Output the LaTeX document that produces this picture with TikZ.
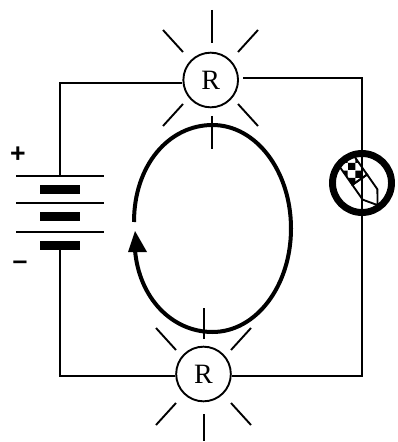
\documentclass[tikz,border=0pt]{standalone}
\usepackage{fontspec}
\setmainfont{Liberation Serif}
\newfontfamily\sansf{Liberation Sans}
\usetikzlibrary{patterns}
\tikzset{
  x=0.75pt,y=-0.75pt,
  wire/.style={line width=1.6pt*0.75},
  ray/.style={line width=1.9pt*0.75},
  plate/.style={fill=black,draw=none},
  lamp/.style={circle,draw,line width=1.9pt*0.75,minimum size=41pt,inner sep=0pt,font=\fontsize{21}{24}\selectfont,fill=white},
  sign/.style={font=\sansf\bfseries\fontsize{20}{22}\selectfont,inner sep=0pt},
}
\begin{document}
\begin{tikzpicture}
\useasboundingbox (0,0) rectangle (398,442);
% current loop
\draw[line width=3pt] (134,222) .. controls (134,165) and (169,125) .. (212.5,125)
  .. controls (256,125) and (291,171) .. (291,228.5)
  .. controls (291,286) and (256,332) .. (212.5,332)
  .. controls (172,332) and (139,298) .. (135,250);
\fill (135,231) -- (147,252) -- (128,252) -- cycle;
% wires
\node[lamp] (r1) at (210.7,80) {R};
\node[lamp] (r2) at (203.5,374) {R};
\coordinate (tl) at (60,83);
\coordinate (tr) at (362,78);
\coordinate (br) at (362,376);
\coordinate (bl) at (60,376);
\coordinate (battop) at (60,176);
\coordinate (batbot) at (60,250);
\draw[wire] (r1.west |- tl) -- (tl) -- (battop);
\draw[wire] (243,78) -- (tr) -- (br) -- (232,376);
\draw[wire] (175,376) -- (bl) -- (batbot);
% battery
\draw[wire] (16,176) -- (104,176);
\draw[wire] (16,203) -- (104,203);
\draw[wire] (16,232) -- (104,232);
\fill[plate] (40,185) rectangle (80,194);
\fill[plate] (40,212) rectangle (80,221);
\fill[plate] (40,241) rectangle (80,250);
\node[sign] (plus) at (18,155) {+};
\node[sign] (minus) at (20,265) {–};
% rays
\draw[ray] (212,10) -- (212,43);
\draw[ray] (163,30) -- (183,52);
\draw[ray] (258,30) -- (238,52);
\draw[ray] (183,104) -- (163,126);
\draw[ray] (238,104) -- (258,126);
\draw[ray] (212,116) -- (212,149);
\draw[ray] (204,308) -- (204,339);
\draw[ray] (156,328) -- (176,350);
\draw[ray] (251,328) -- (231,350);
\draw[ray] (176,403) -- (156,425);
\draw[ray] (231,403) -- (251,425);
\draw[ray] (204,414) -- (204,441);
% forbidden pencil
\draw[line width=5.2pt] (362,183) circle (29.5);
\begin{scope}[shift={(362,183)},rotate=35]
\fill[pattern=checkerboard] (-9,-30) rectangle (9,-4);
\draw[line width=1.4pt] (-9,-4) -- (-9,14) -- (0,27) -- (9,14) -- (9,-4) -- cycle;
\draw[line width=1.4pt] (-9,-30) rectangle (9,-4);
\end{scope}
\end{tikzpicture}
\end{document}
